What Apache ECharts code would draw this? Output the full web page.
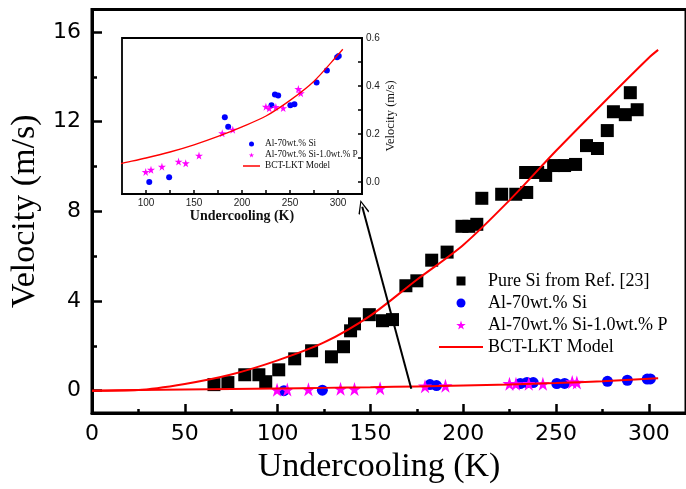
<!DOCTYPE html>
<html>
<head>
<meta charset="utf-8">
<script src="https://cdn.jsdelivr.net/npm/echarts@6/dist/echarts.min.js"></script>
<style>
  html, body { margin: 0; padding: 0; background: #fff; }
  #chart { width: 686px; height: 489px; }
</style>
</head>
<body>
<div id="chart"></div>
<script>
// values (undercooling K, velocity m/s)
const pureSiK = [65.7, 73.2, 82.3, 89.9, 93.6, 100.6, 109.2, 118.3, 129.0, 135.5, 139.3, 141.4, 149.4, 156.5, 161.9, 169.1, 175.0, 183.0, 191.3, 199.3, 203.0, 207.3, 210.0, 220.7, 228.3, 234.2, 233.6, 240.1, 244.4, 248.7, 254.6, 260.5, 266.4, 272.3, 277.6, 280.9, 287.3, 290.0, 293.7];
const pureSiV = [0.27, 0.36, 0.71, 0.71, 0.40, 0.93, 1.42, 1.78, 1.51, 1.96, 2.67, 2.98, 3.39, 3.12, 3.17, 4.68, 4.9, 5.82, 6.18, 7.33, 7.33, 7.42, 8.58, 8.76, 8.76, 8.84, 9.73, 9.73, 9.6, 10.04, 10.04, 10.09, 10.93, 10.8, 11.6, 12.44, 12.31, 13.29, 12.53];

const alSiK = [103.4, 124.1, 182.1, 185.6, 230.7, 234.3, 237.7, 250.4, 254.6, 277.7, 288.4, 299.1, 300.8];
const alSiV = [0.00, 0.02, 0.27, 0.23, 0.32, 0.365, 0.36, 0.32, 0.324, 0.415, 0.465, 0.52, 0.525];

const alSiPK = [99.7, 105.2, 116.6, 133.9, 141.4, 155.2, 179.4, 190.4, 224.9, 228.4, 235.3, 242.9, 258.7, 261.2];
const alSiPV = [0.042, 0.051, 0.064, 0.085, 0.078, 0.11, 0.203, 0.218, 0.314, 0.307, 0.3125, 0.308, 0.3875, 0.37];

const modelK = [0, 25, 50, 75, 100, 125, 150, 175, 200, 225, 250, 275, 300, 305];
const modelHighV = [0, 0.03, 0.3, 0.72, 1.35, 2.15, 3.35, 4.95, 6.5, 8.5, 10.7, 12.8, 14.85, 15.2];
const modelLowV = [0.0, 0.03, 0.055, 0.078, 0.1, 0.125, 0.155, 0.19, 0.23, 0.275, 0.34, 0.42, 0.53, 0.553];

const mainXLabels = [0, 50, 100, 150, 200, 250, 300];
const mainXMinor = [25, 75, 125, 175, 225, 275];
const mainYLabels = [0, 4, 8, 12, 16];
const mainYMinor = [2, 6, 10, 14];
const insetXLabels = [100, 150, 200, 250, 300];
const insetXTicks = [100, 125, 150, 175, 200, 225, 250, 275, 300];
const insetYLabels = [0, 0.2, 0.4, 0.6];
const insetYTicks = [0, 0.1, 0.2, 0.3, 0.4, 0.5, 0.6];

const zip = (a, b) => a.map((x, i) => [x, b[i]]);

const SERIF = "'Times New Roman', 'Liberation Serif', serif";
const SANS = "'DejaVu Sans', sans-serif";
const STAR = 'path://M50,0 L61,35 L98,35 L68,57 L79,91 L50,70 L21,91 L32,57 L2,35 L39,35 Z';
const SQUARE = 'path://M0,0 L10,0 L10,10 L0,10 Z';
const ARROW = 'path://M10,0 L20,18 L18,19.5 L10,4 L2,19.5 L0,18 Z';
const BAR = 'path://M0,0 L44,0 L44,2 L0,2 Z';

const chart = echarts.init(document.getElementById('chart'), null, { renderer: 'canvas' });

chart.setOption({
  animation: false,
  backgroundColor: '#fff',
  grid: [
    { left: 92, top: 9.5, width: 596, height: 405, show: true, borderColor: '#000', borderWidth: 3 },
    { left: 122, top: 38, width: 240, height: 156, show: true, backgroundColor: '#fff', borderColor: '#000', borderWidth: 1.8 }
  ],
  xAxis: [
    {
      gridIndex: 0, type: 'value', min: 0, max: 320, position: 'bottom',
      name: 'Undercooling (K)', nameLocation: 'middle', nameGap: 31,
      nameTextStyle: { fontFamily: SERIF, fontSize: 34, color: '#000', padding: [0, 20, 0, 0] },
      axisLine: { show: true, onZero: false, lineStyle: { color: '#000', width: 3 } },
      axisTick: { show: true, inside: true, length: 9, customValues: mainXLabels, lineStyle: { color: '#000', width: 2.5 } },
      axisLabel: { customValues: mainXLabels, margin: 10, fontFamily: SANS, fontSize: 22, color: '#000' },
      splitLine: { show: false }
    },
    {
      gridIndex: 0, type: 'value', min: 0, max: 320, position: 'bottom',
      axisLine: { show: false, onZero: false },
      axisTick: { show: true, inside: true, length: 4, customValues: mainXMinor, lineStyle: { color: '#000', width: 2.5 } },
      axisLabel: { show: false },
      splitLine: { show: false }
    },
    {
      gridIndex: 1, type: 'value', min: 75, max: 325, position: 'bottom',
      name: 'Undercooling (K)', nameLocation: 'middle', nameGap: 13,
      nameTextStyle: { fontFamily: SERIF, fontSize: 14, fontWeight: 'bold', color: '#111' },
      axisLine: { show: true, onZero: false, lineStyle: { color: '#000', width: 1.8 } },
      axisTick: { show: true, inside: true, length: 4, customValues: insetXTicks, lineStyle: { color: '#000', width: 1.5 } },
      axisLabel: { customValues: insetXLabels, margin: 4, fontFamily: "'Liberation Sans', sans-serif", fontSize: 10, color: '#222' },
      splitLine: { show: false }
    }
  ],
  yAxis: [
    {
      gridIndex: 0, type: 'value', min: -1, max: 17, position: 'left',
      name: 'Velocity (m/s)', nameLocation: 'middle', nameGap: 45, nameRotate: 90,
      nameTextStyle: { fontFamily: SERIF, fontSize: 34, color: '#000' },
      axisLine: { show: true, onZero: false, lineStyle: { color: '#000', width: 3 } },
      axisTick: { show: true, inside: true, length: 10, customValues: mainYLabels, lineStyle: { color: '#000', width: 2.5 } },
      axisLabel: { customValues: mainYLabels, margin: 11, fontFamily: SANS, fontSize: 22, color: '#000' },
      splitLine: { show: false }
    },
    {
      gridIndex: 0, type: 'value', min: -1, max: 17, position: 'left',
      axisLine: { show: false, onZero: false },
      axisTick: { show: true, inside: true, length: 5, customValues: mainYMinor, lineStyle: { color: '#000', width: 2.5 } },
      axisLabel: { show: false },
      splitLine: { show: false }
    },
    {
      gridIndex: 1, type: 'value', min: -0.05, max: 0.6, position: 'right',
      name: 'Velocity (m/s)', nameLocation: 'middle', nameGap: 22, nameRotate: 90,
      nameTextStyle: { fontFamily: SERIF, fontSize: 12.5, color: '#111' },
      axisLine: { show: true, onZero: false, lineStyle: { color: '#000', width: 1.8 } },
      axisTick: { show: true, inside: true, length: 4, customValues: insetYTicks, lineStyle: { color: '#000', width: 1.5 } },
      axisLabel: { customValues: insetYLabels, margin: 4, fontFamily: "'Liberation Sans', sans-serif", fontSize: 10, color: '#222',
        formatter: v => v.toFixed(1) },
      splitLine: { show: false }
    }
  ],
  legend: [
    {
      orient: 'vertical', left: 434, top: 267,
      itemWidth: 44, itemHeight: 9, itemGap: 4,
      symbolKeepAspect: true,
      textStyle: { fontFamily: SERIF, fontSize: 18, color: '#000' },
      data: [
        { name: 'Pure Si from Ref. [23]', icon: SQUARE },
        { name: 'Al-70wt.% Si', icon: 'circle' },
        { name: 'Al-70wt.% Si-1.0wt.% P', icon: STAR },
        { name: 'BCT-LKT Model', icon: BAR }
      ]
    },
    {
      orient: 'vertical', left: 238, top: 133.5,
      itemWidth: 17, itemHeight: 5, itemGap: 0,
      symbolKeepAspect: true,
      textStyle: { fontFamily: SERIF, fontSize: 9.3, color: '#111', lineHeight: 11 },
      data: [
        { name: 'Al-70wt.% Si', icon: 'circle' },
        { name: 'Al-70wt.% Si-1.0wt.% P', icon: STAR },
        { name: 'BCT-LKT Model', icon: 'path://M0,0 L17,0 L17,1.5 L0,1.5 Z' }
      ]
    }
  ],
  series: [
    {
      name: 'Pure Si from Ref. [23]', type: 'scatter', xAxisIndex: 0, yAxisIndex: 0,
      symbol: 'rect', symbolSize: 13, itemStyle: { color: '#000', opacity: 1 },
      data: zip(pureSiK, pureSiV),
      markLine: {
        silent: true, symbol: ['none', ARROW], symbolSize: [11, 14],
        label: { show: false },
        lineStyle: { color: '#000', width: 2, type: 'solid' },
        data: [[{ coord: [172, 0.09] }, { coord: [145.6, 8.2] }]]
      }
    },
    {
      name: 'BCT-LKT Model', type: 'line', xAxisIndex: 0, yAxisIndex: 0, z: 3,
      smooth: 0.3, showSymbol: false, symbol: 'none',
      lineStyle: { color: '#ff0000', width: 2 }, itemStyle: { color: '#ff0000' },
      data: zip(modelK, modelHighV)
    },
    {
      name: 'Al-70wt.% Si', type: 'scatter', xAxisIndex: 0, yAxisIndex: 0,
      symbol: 'circle', symbolSize: 11, itemStyle: { color: '#0000ff', opacity: 1 },
      data: zip(alSiK, alSiV)
    },
    {
      name: 'Al-70wt.% Si-1.0wt.% P', type: 'scatter', xAxisIndex: 0, yAxisIndex: 0,
      symbol: STAR, symbolSize: 14, itemStyle: { color: '#ff00ff', opacity: 1 },
      data: zip(alSiPK, alSiPV)
    },
    {
      name: 'BCT-LKT Model', type: 'line', xAxisIndex: 0, yAxisIndex: 0, z: 3,
      smooth: 0.3, showSymbol: false, symbol: 'none',
      lineStyle: { color: '#ff0000', width: 2 }, itemStyle: { color: '#ff0000' },
      data: zip(modelK, modelLowV)
    },
    {
      name: 'Al-70wt.% Si', type: 'scatter', xAxisIndex: 2, yAxisIndex: 2,
      symbol: 'circle', symbolSize: 6, itemStyle: { color: '#0000ff', opacity: 1 },
      data: zip(alSiK, alSiV)
    },
    {
      name: 'Al-70wt.% Si-1.0wt.% P', type: 'scatter', xAxisIndex: 2, yAxisIndex: 2,
      symbol: STAR, symbolSize: 8, itemStyle: { color: '#ff00ff', opacity: 1 },
      data: zip(alSiPK, alSiPV)
    },
    {
      name: 'BCT-LKT Model', type: 'line', xAxisIndex: 2, yAxisIndex: 2, z: 3,
      smooth: 0.3, showSymbol: false, symbol: 'none', clip: true,
      lineStyle: { color: '#ff0000', width: 1.3 }, itemStyle: { color: '#ff0000' },
      data: zip(modelK, modelLowV)
    }
  ]
});
</script>
</body>
</html>
